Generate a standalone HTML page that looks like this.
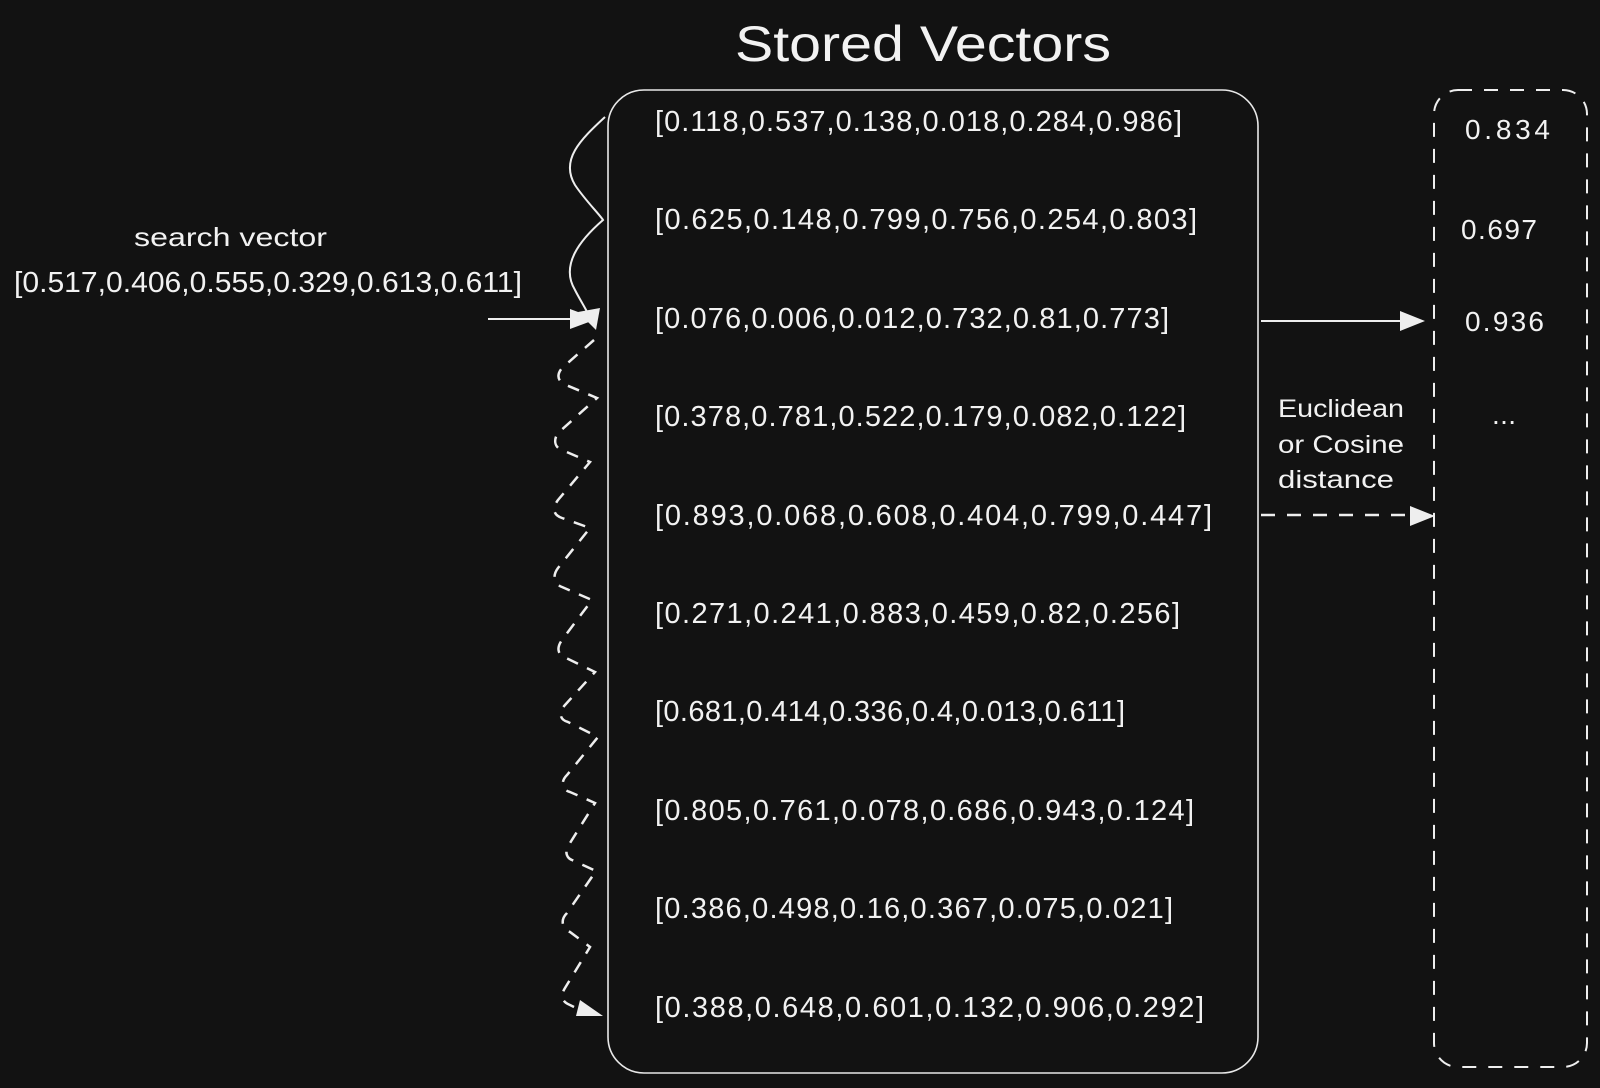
<!DOCTYPE html>
<html><head><meta charset="utf-8"><style>
html,body{margin:0;padding:0;background:#121212;}
svg{display:block}
text{font-family:"Liberation Sans",sans-serif;fill:#f2f2f2}
</style></head><body>
<svg width="1600" height="1088" viewBox="0 0 1600 1088" xmlns="http://www.w3.org/2000/svg">
<rect width="1600" height="1088" fill="#121212"/>
<text x="735" y="61" font-size="50" textLength="376" lengthAdjust="spacingAndGlyphs">Stored Vectors</text>
<rect x="608" y="90" width="650" height="983" rx="36" fill="none" stroke="#e8e8e8" stroke-width="1.6"/>
<g font-size="29" lengthAdjust="spacingAndGlyphs">
<text x="655" y="131" textLength="527">[0.118,0.537,0.138,0.018,0.284,0.986]</text>
<text x="655" y="229" textLength="542">[0.625,0.148,0.799,0.756,0.254,0.803]</text>
<text x="655" y="328" textLength="514">[0.076,0.006,0.012,0.732,0.81,0.773]</text>
<text x="655" y="426" textLength="531">[0.378,0.781,0.522,0.179,0.082,0.122]</text>
<text x="655" y="525" textLength="557">[0.893,0.068,0.608,0.404,0.799,0.447]</text>
<text x="655" y="623" textLength="525">[0.271,0.241,0.883,0.459,0.82,0.256]</text>
<text x="655" y="721" textLength="470">[0.681,0.414,0.336,0.4,0.013,0.611]</text>
<text x="655" y="820" textLength="539">[0.805,0.761,0.078,0.686,0.943,0.124]</text>
<text x="655" y="918" textLength="518">[0.386,0.498,0.16,0.367,0.075,0.021]</text>
<text x="655" y="1017" textLength="549">[0.388,0.648,0.601,0.132,0.906,0.292]</text>
</g>
<text x="134" y="246" font-size="26" textLength="193" lengthAdjust="spacingAndGlyphs">search vector</text>
<text x="14" y="292" font-size="29" textLength="508" lengthAdjust="spacingAndGlyphs">[0.517,0.406,0.555,0.329,0.613,0.611]</text>
<!-- search arrow -->
<line x1="488" y1="319" x2="578" y2="319" stroke="#eee" stroke-width="2"/>
<polygon points="597,319 570,309 570,329" fill="#eee"/>
<!-- solid squiggle -->
<path d="M605,117 C580,140 560,160 575,185 C585,200 600,215 603,220 C580,240 560,265 575,290 C580,300 588,312 592,322" fill="none" stroke="#eee" stroke-width="2"/>
<polygon points="596,330 578,312 600,308" fill="#eee"/>
<!-- dashed zigzag -->
<path d="M594,340 L562,368 C556,375 558,382 566,385 L597,398 L558,433 C553,440 555,448 562,450 L590,462 L558,500 C552,508 553,515 562,518 L590,528 L558,568 C552,576 554,584 562,587 L592,600 L562,640 C556,648 558,656 566,658 L595,672 L565,705 C558,713 560,720 568,722 L598,737 L567,775 C560,782 562,790 570,792 L595,803 L570,843 C564,850 566,858 572,860 L596,871 L567,913 C560,920 562,928 570,932 L590,947 L565,988 C560,996 562,1002 570,1005 L588,1014" fill="none" stroke="#eee" stroke-width="2.5" stroke-dasharray="12 10"/>
<polygon points="603,1016 580,1000 576,1016" fill="#eee"/>
<!-- right arrows -->
<line x1="1261" y1="321" x2="1405" y2="321" stroke="#eee" stroke-width="2"/>
<polygon points="1425,321 1400,311 1400,331" fill="#eee"/>
<line x1="1261" y1="515" x2="1410" y2="515" stroke="#eee" stroke-width="2.5" stroke-dasharray="14 12"/>
<polygon points="1435,516 1410,506 1410,526" fill="#eee"/>
<g font-size="25">
<text x="1278" y="417" textLength="126" lengthAdjust="spacingAndGlyphs">Euclidean</text>
<text x="1278" y="453" textLength="126" lengthAdjust="spacingAndGlyphs">or Cosine</text>
<text x="1278" y="488" textLength="116" lengthAdjust="spacingAndGlyphs">distance</text>
</g>
<!-- dashed result box -->
<rect x="1434" y="90" width="153" height="977" rx="24" fill="none" stroke="#eee" stroke-width="2" stroke-dasharray="14 12"/>
<g font-size="28" lengthAdjust="spacingAndGlyphs">
<text x="1465" y="139" textLength="85">0.834</text>
<text x="1461" y="239" textLength="76">0.697</text>
<text x="1465" y="331" textLength="79">0.936</text>
<text x="1492" y="424" textLength="24">...</text>
</g>
</svg>
</body></html>
